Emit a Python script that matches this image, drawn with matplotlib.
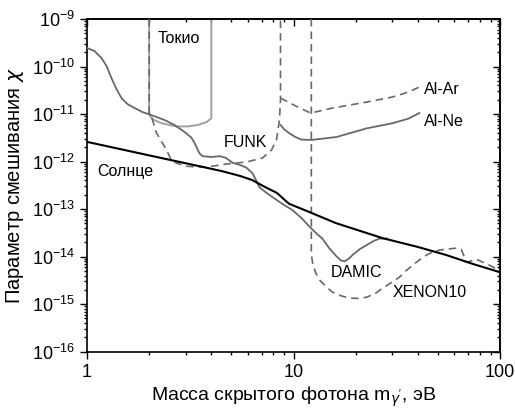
import matplotlib
matplotlib.use("Agg")
import matplotlib.pyplot as plt
from matplotlib.ticker import LogLocator, NullFormatter

plt.rcParams['font.family'] = ['Liberation Sans', 'DejaVu Sans']
plt.rcParams['mathtext.fontset'] = 'custom'
plt.rcParams['mathtext.rm'] = 'Liberation Sans'
plt.rcParams['mathtext.it'] = 'DejaVu Sans:italic'
plt.rcParams['mathtext.bf'] = 'Liberation Sans:bold'

# ---- data (mass in eV, mixing parameter chi) ----
sun_m = [1.0, 2.0, 3.5, 4.5, 5.5, 6.3, 7.3, 8.3, 9.5, 12, 16, 27, 40, 55, 74, 100]
sun_chi = [2.6e-12, 1.35e-12, 8.0e-13, 6.3e-13, 5.0e-13, 4.1e-13, 2.9e-13, 2.2e-13,
           1.3e-13, 8.6e-14, 5.1e-14, 2.45e-14, 1.6e-14, 1.08e-14, 7.0e-15, 4.7e-15]

damic_m = [1.0, 1.087, 1.175, 1.243, 1.314, 1.389, 1.469, 1.571, 1.70, 1.857, 2.05,
           2.373, 2.653, 2.97, 3.2, 3.32, 3.5, 3.63, 4.0, 4.4, 4.7, 5.06, 5.5, 5.9,
           6.33, 6.6, 6.84, 7.3, 7.9, 8.8, 9.9, 11.0, 12.0, 13.0, 13.8, 14.9, 16.2,
           17.0, 17.7, 18.5, 19.3, 21.0, 22.6, 24.5, 26.1, 28.5]
damic_chi = [2.45e-10, 2.12e-10, 1.51e-10, 1.03e-10, 5.7e-11, 3.36e-11, 2.17e-11,
             1.62e-11, 1.34e-11, 1.1e-11, 9.5e-12, 7.5e-12, 5.9e-12, 4.18e-12,
             3.2e-12, 2.45e-12, 1.5e-12, 1.3e-12, 1.25e-12, 1.3e-12, 1.2e-12, 9.5e-13,
             8.5e-13, 7.5e-13, 5.7e-13, 4.0e-13, 2.9e-13, 2.3e-13, 1.8e-13, 1.3e-13,
             9.5e-14, 6.3e-14, 4.2e-14, 3.0e-14, 2.4e-14, 1.5e-14, 1.0e-14, 8.3e-15,
             8.0e-15, 9.0e-15, 1.08e-14, 1.45e-14, 1.75e-14, 2.15e-14, 2.4e-14, 2.4e-14]

tokyo_m = [2.0, 2.0, 2.03, 2.1, 2.3, 2.7, 3.1, 3.45, 3.8, 4.0, 4.0]
tokyo_chi = [1e-9, 1.1e-11, 8.8e-12, 7.6e-12, 6.4e-12, 5.5e-12, 5.5e-12, 5.9e-12,
             6.8e-12, 8.2e-12, 1e-9]

funk_m = [2.0, 2.0, 2.076, 2.17, 2.32, 2.43, 2.56, 2.71, 3.03, 3.4, 3.79, 4.73, 5.92,
          7.08, 7.82, 8.27, 8.55, 8.65, 8.65]
funk_chi = [1e-9, 1.05e-11, 7.5e-12, 4.0e-12, 2.45e-12, 1.75e-12, 1.07e-12, 9.3e-13,
            8.0e-13, 7.7e-13, 7.65e-13, 8.9e-13, 9.8e-13, 1.19e-12, 1.75e-12, 2.84e-12,
            7.5e-12, 2e-11, 1e-9]

alar_m = [8.65, 10.5, 12.1, 15.5, 22.6, 30.1, 36.0, 41.7]
alar_chi = [2.17e-11, 1.4e-11, 1.05e-11, 1.34e-11, 1.79e-11, 2.28e-11, 2.9e-11, 3.9e-11]

alne_m = [8.65, 9.0, 9.5, 10.2, 10.9, 12.2, 16.2, 22.6, 30.1, 36.0, 40.7]
alne_chi = [5.9e-12, 4.8e-12, 4.0e-12, 3.3e-12, 2.9e-12, 2.85e-12, 3.3e-12, 5.0e-12,
            6.4e-12, 8.0e-12, 1.05e-11]

xenon_m = [12.2, 12.2, 12.4, 12.8, 13.4, 14.3, 15.4, 17.0, 18.7, 20.5, 22.6, 25.0,
           27.0, 30.0, 32.6, 35.0, 37.7, 41.0, 44.1, 47.0, 50.9, 56.0, 61.5, 65.0,
           68.9, 76.9, 88.9, 100]
xenon_chi = [1e-9, 1.1e-14, 7.0e-15, 4.6e-15, 3.2e-15, 2.4e-15, 1.8e-15, 1.5e-15,
             1.34e-15, 1.32e-15, 1.4e-15, 1.7e-15, 2.17e-15, 2.9e-15, 3.7e-15, 5.0e-15,
             6.6e-15, 8.7e-15, 1.08e-14, 1.25e-14, 1.37e-14, 1.45e-14, 1.51e-14,
             1.4e-14, 7.6e-15, 8.8e-15, 6.6e-15, 5.0e-15]

labels = ["Токио", "FUNK", "Al-Ar", "Al-Ne", "Солнце", "DAMIC", "XENON10"]

# ---- figure ----
fig = plt.figure(figsize=(5.15, 4.11), dpi=100)
ax = fig.add_axes([87/515, 1-351.7/411, 413/515, (351.7-19)/411])
ax.set_xscale('log')
ax.set_yscale('log')
ax.set_xlim(1, 100)
ax.set_ylim(1e-16, 1e-9)

gray = '#686868'
dash = (0, (4.5, 3))
ax.plot(tokyo_m, tokyo_chi, color='#a0a0a0', lw=1.4, zorder=2)
ax.plot(funk_m, funk_chi, color=gray, lw=1.2, ls=dash, zorder=3)
ax.plot(alar_m, alar_chi, color=gray, lw=1.2, ls=dash, zorder=3)
ax.plot(xenon_m, xenon_chi, color=gray, lw=1.2, ls=dash, zorder=3)
ax.plot(alne_m, alne_chi, color=gray, lw=1.3, zorder=3)
ax.plot(damic_m, damic_chi, color=gray, lw=1.3, zorder=3)
ax.plot(sun_m, sun_chi, color='black', lw=1.5, zorder=4)

fs = 11.5
ax.text(2.195, 3.98e-10, labels[0], fontsize=fs, ha='left', va='center')
ax.text(5.86, 2.58e-12, labels[1], fontsize=fs, ha='center', va='center')
ax.text(42.6, 3.36e-11, labels[2], fontsize=fs, ha='left', va='center')
ax.text(42.6, 7.1e-12, labels[3], fontsize=fs, ha='left', va='center')
ax.text(1.124, 6.3e-13, labels[4], fontsize=fs, ha='left', va='center')
ax.text(20.2, 4.72e-15, labels[5], fontsize=fs, ha='center', va='center')
ax.text(45.6, 1.79e-15, labels[6], fontsize=fs, ha='center', va='center')

ax.set_xlabel(r"Масса скрытого фотона m$_{\gamma'}$, эВ", fontsize=14, labelpad=3)
ax.set_ylabel(r"Параметр смешивания $\chi$", fontsize=14.5, labelpad=4)

ax.yaxis.set_major_locator(LogLocator(base=10, numticks=12))
ax.xaxis.set_minor_locator(LogLocator(base=10, subs=range(2, 10), numticks=20))
ax.yaxis.set_minor_locator(LogLocator(base=10, subs=range(2, 10), numticks=20))
ax.xaxis.set_minor_formatter(NullFormatter())
ax.yaxis.set_minor_formatter(NullFormatter())
ax.set_xticks([1, 10, 100])
ax.set_xticklabels(['1', '10', '100'])

ax.tick_params(which='both', direction='out', labelsize=13, width=1.0, top=False, right=False)
ax.tick_params(which='major', length=5)
ax.tick_params(which='minor', length=2.5)
for s in ax.spines.values():
    s.set_linewidth(1.2)

secx = ax.secondary_xaxis('top')
secx.tick_params(which='both', direction='in', labeltop=False, width=1.0)
secx.tick_params(which='major', length=5)
secx.tick_params(which='minor', length=2.5)
secx.xaxis.set_minor_locator(LogLocator(base=10, subs=range(2, 10), numticks=20))
secx.xaxis.set_minor_formatter(NullFormatter())
secx.spines['top'].set_linewidth(1.2)

secy = ax.secondary_yaxis('right')
secy.tick_params(which='both', direction='in', labelright=False, width=1.0)
secy.tick_params(which='major', length=5)
secy.tick_params(which='minor', length=2.5)
secy.yaxis.set_major_locator(LogLocator(base=10, numticks=12))
secy.yaxis.set_minor_locator(LogLocator(base=10, subs=range(2, 10), numticks=20))
secy.yaxis.set_minor_formatter(NullFormatter())
secy.spines['right'].set_linewidth(1.2)

fig.savefig('out.png', dpi=100)
